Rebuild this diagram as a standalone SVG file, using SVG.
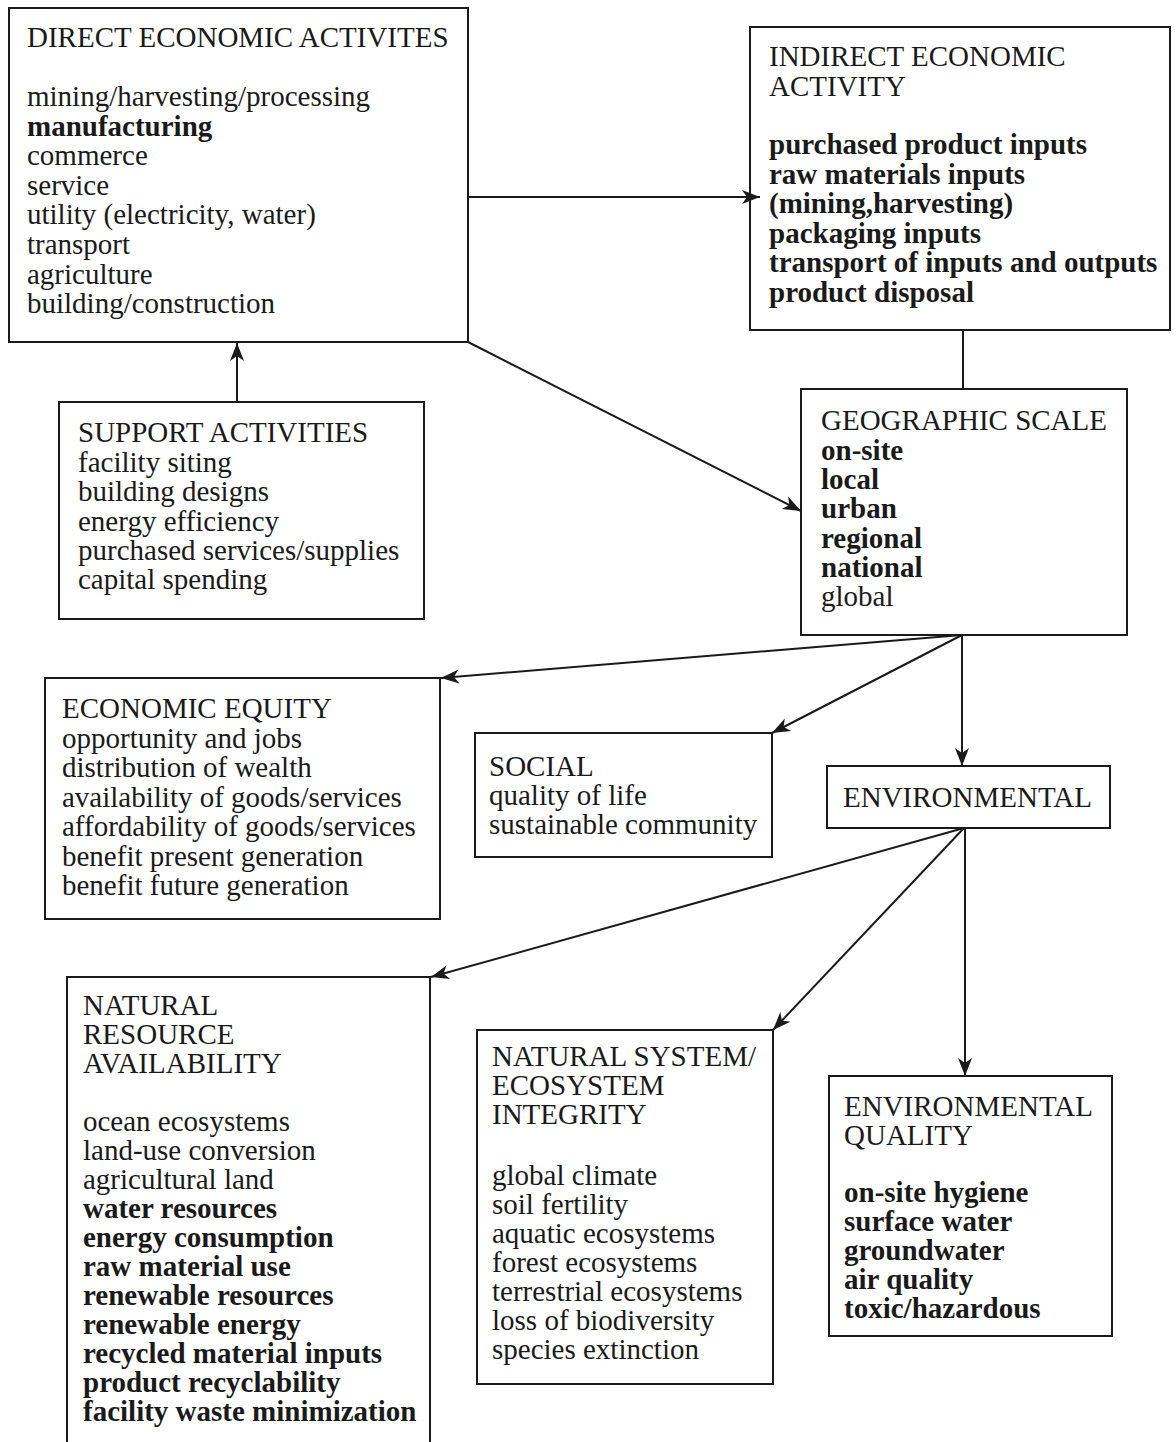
<svg xmlns="http://www.w3.org/2000/svg" width="1176" height="1442" viewBox="0 0 1176 1442">
<style>
.box{fill:#fff;stroke:#1a1a1a;stroke-width:2}
text{font-family:"Liberation Serif","Times New Roman",serif;font-size:29px;fill:#1a1a1a}
.b{font-weight:bold}
.c{fill:none;stroke:#1a1a1a;stroke-width:2}
</style>
<defs>
<marker id="ah" viewBox="-20 -8 22 16" refX="0" refY="0" markerWidth="22" markerHeight="16" markerUnits="userSpaceOnUse" orient="auto">
<path d="M0,0 L-18,-7 L-13,0 L-18,7 Z" fill="#1a1a1a"/>
</marker>
</defs>
<rect width="1176" height="1442" fill="#fff"/>
<g id="direct">
<rect class="box" x="9" y="8" width="459" height="334"/>
<text x="27" y="47">DIRECT ECONOMIC ACTIVITES</text>
<text x="27" y="106">mining/harvesting/processing</text>
<text x="27" y="135.6" class="b">manufacturing</text>
<text x="27" y="165.2">commerce</text>
<text x="27" y="194.8">service</text>
<text x="27" y="224.4">utility (electricity, water)</text>
<text x="27" y="254">transport</text>
<text x="27" y="283.6">agriculture</text>
<text x="27" y="313.2">building/construction</text>
</g>
<g id="indirect">
<rect class="box" x="750" y="27" width="420" height="303"/>
<text x="769" y="66">INDIRECT ECONOMIC</text>
<text x="769" y="96">ACTIVITY</text>
<text x="769" y="154" class="b">purchased product inputs</text>
<text x="769" y="183.5" class="b">raw materials inputs</text>
<text x="769" y="213" class="b">(mining,harvesting)</text>
<text x="769" y="242.5" class="b">packaging inputs</text>
<text x="769" y="272" class="b">transport of inputs and outputs</text>
<text x="769" y="301.5" class="b">product disposal</text>
</g>
<g id="support">
<rect class="box" x="59" y="402" width="365" height="217"/>
<text x="78" y="442">SUPPORT ACTIVITIES</text>
<text x="78" y="471.5">facility siting</text>
<text x="78" y="501">building designs</text>
<text x="78" y="530.5">energy efficiency</text>
<text x="78" y="560">purchased services/supplies</text>
<text x="78" y="589">capital spending</text>
</g>
<g id="geographic">
<rect class="box" x="801" y="389" width="326" height="246"/>
<text x="821" y="430">GEOGRAPHIC SCALE</text>
<text x="821" y="460" class="b">on-site</text>
<text x="821" y="489" class="b">local</text>
<text x="821" y="518" class="b">urban</text>
<text x="821" y="547.5" class="b">regional</text>
<text x="821" y="577" class="b">national</text>
<text x="821" y="606">global</text>
</g>
<g id="equity">
<rect class="box" x="45" y="678" width="395" height="241"/>
<text x="62" y="718">ECONOMIC EQUITY</text>
<text x="62" y="748">opportunity and jobs</text>
<text x="62" y="777">distribution of wealth</text>
<text x="62" y="807">availability of goods/services</text>
<text x="62" y="836">affordability of goods/services</text>
<text x="62" y="866">benefit present generation</text>
<text x="62" y="895">benefit future generation</text>
</g>
<g id="social">
<rect class="box" x="475" y="733" width="297" height="124"/>
<text x="489" y="776">SOCIAL</text>
<text x="489" y="805">quality of life</text>
<text x="489" y="834">sustainable community</text>
</g>
<g id="environmental">
<rect class="box" x="827" y="766" width="283" height="62"/>
<text x="843" y="807">ENVIRONMENTAL</text>
</g>
<g id="natural-resource">
<rect class="box" x="67" y="977" width="363" height="470"/>
<text x="83" y="1015">NATURAL</text>
<text x="83" y="1044">RESOURCE</text>
<text x="83" y="1073">AVAILABILITY</text>
<text x="83" y="1131">ocean ecosystems</text>
<text x="83" y="1160">land-use conversion</text>
<text x="83" y="1189">agricultural land</text>
<text x="83" y="1218" class="b">water resources</text>
<text x="83" y="1247" class="b">energy consumption</text>
<text x="83" y="1276" class="b">raw material use</text>
<text x="83" y="1305" class="b">renewable resources</text>
<text x="83" y="1334" class="b">renewable energy</text>
<text x="83" y="1363" class="b">recycled material inputs</text>
<text x="83" y="1392" class="b">product recyclability</text>
<text x="83" y="1421" class="b">facility waste minimization</text>
</g>
<g id="natural-system">
<rect class="box" x="477" y="1030" width="296" height="354"/>
<text x="492" y="1066">NATURAL SYSTEM/</text>
<text x="492" y="1095">ECOSYSTEM</text>
<text x="492" y="1124">INTEGRITY</text>
<text x="492" y="1185">global climate</text>
<text x="492" y="1214">soil fertility</text>
<text x="492" y="1243">aquatic ecosystems</text>
<text x="492" y="1272">forest ecosystems</text>
<text x="492" y="1301">terrestrial ecosystems</text>
<text x="492" y="1330">loss of biodiversity</text>
<text x="492" y="1359">species extinction</text>
</g>
<g id="env-quality">
<rect class="box" x="829" y="1076" width="283" height="260"/>
<text x="844" y="1116">ENVIRONMENTAL</text>
<text x="844" y="1145">QUALITY</text>
<text x="844" y="1202" class="b">on-site hygiene</text>
<text x="844" y="1231" class="b">surface water</text>
<text x="844" y="1260" class="b">groundwater</text>
<text x="844" y="1289" class="b">air quality</text>
<text x="844" y="1318" class="b">toxic/hazardous</text>
</g>
<g id="connectors">
<path class="c" d="M468,197 L760,197" marker-end="url(#ah)"/>
<path class="c" d="M237,402 L237,343" marker-end="url(#ah)"/>
<path class="c" d="M468,342 L801,511" marker-end="url(#ah)"/>
<path class="c" d="M963,330 L963,389"/>
<path class="c" d="M962,635 L441,678" marker-end="url(#ah)"/>
<path class="c" d="M962,635 L772,733" marker-end="url(#ah)"/>
<path class="c" d="M962,635 L962,766" marker-end="url(#ah)"/>
<path class="c" d="M964,828 L431,977" marker-end="url(#ah)"/>
<path class="c" d="M964,828 L773,1030" marker-end="url(#ah)"/>
<path class="c" d="M965,828 L965,1076" marker-end="url(#ah)"/>
</g>
</svg>
